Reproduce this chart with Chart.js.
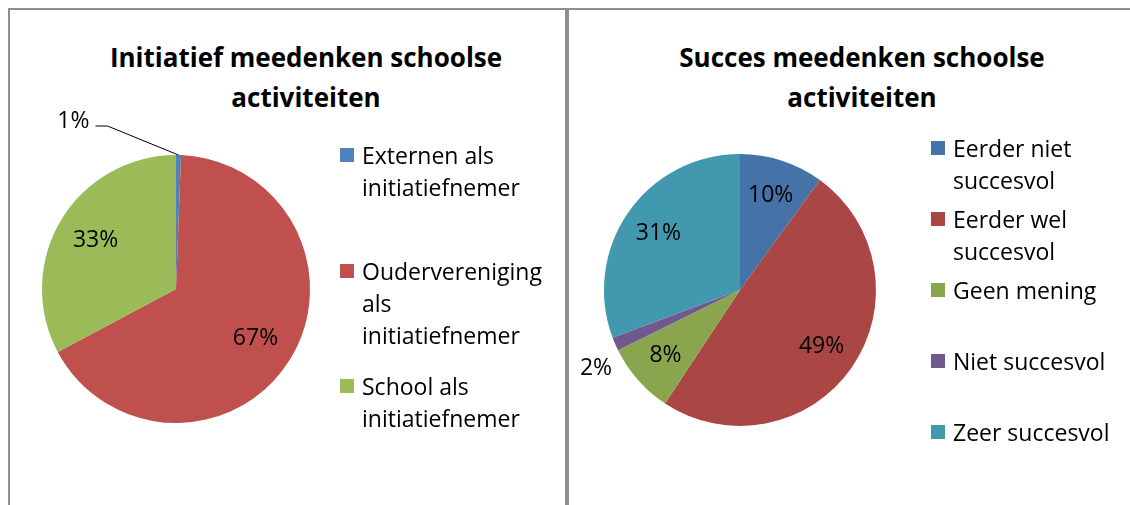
<!DOCTYPE html>
<html>
<head>
<meta charset="utf-8">
<script src="https://cdn.jsdelivr.net/npm/chart.js@4/dist/chart.umd.min.js"></script>
<style>
  body { margin: 0; background: #fff; font-family: "Open Sans", sans-serif; }
  .box { position: absolute; top: 8px; height: 520px; border: 2px solid #8e8e8e; box-sizing: border-box; }
  .title { position: absolute; top: 37px; width: 460px; text-align: center; font: bold 26px "Open Sans", sans-serif; line-height: 40px; color: #000; }
  canvas { position: absolute; }
  .legend { position: absolute; margin: 0; padding: 0; list-style: none; font: 23px "Open Sans", sans-serif; line-height: 32px; color: #000; white-space: nowrap; }
  .legend li { position: relative; padding-left: 22px; }
  .legend li span { position: absolute; left: 0; top: 9px; width: 14px; height: 14px; }
</style>
</head>
<body>
<div class="box" style="left:8px; width:559px;"></div>
<div class="box" style="left:567px; width:580px;"></div>

<div class="title" id="title1" style="left:76px;"></div>
<div class="title" id="title2" style="left:632px;"></div>

<canvas id="chart1" width="554" height="495" style="left:10px; top:10px;"></canvas>
<canvas id="chart2" width="559" height="495" style="left:569px; top:10px;"></canvas>

<ul class="legend" id="legend1" style="left:340px; top:139px;"></ul>
<ul class="legend" id="legend2" style="left:931px; top:132px;"></ul>

<script>
// left chart
const initTitle = ['Initiatief meedenken schoolse', 'activiteiten'];
const initLabels = [
  ['Externen als', 'initiatiefnemer'],
  ['Oudervereniging', 'als', 'initiatiefnemer'],
  ['School als', 'initiatiefnemer']
];
const initValues = [0.6, 66.6, 32.8];
const initColors = ['#4F81BD', '#C0504D', '#9BBB59'];

// right chart
const succesTitle = ['Succes meedenken schoolse', 'activiteiten'];
const succesLabels = [
  ['Eerder niet', 'succesvol'],
  ['Eerder wel', 'succesvol'],
  ['Geen mening'],
  ['Niet succesvol'],
  ['Zeer succesvol']
];
const succesValues = [10.0, 49.3, 8.4, 1.6, 30.7];
const succesColors = ['#4572A7', '#AA4643', '#89A54E', '#71588F', '#4198AF'];

// percentage labels, inside the slice, outside for tiny ones, or with a leader line
const pieLabels = {
  id: 'pieLabels',
  afterDatasetsDraw(chart, args, opts) {
    const ctx = chart.ctx;
    const ds = chart.data.datasets[0];
    const total = ds.data.reduce((a, b) => a + b, 0);
    ctx.save();
    ctx.font = '23px "Open Sans", sans-serif';
    ctx.fillStyle = '#000';
    ctx.strokeStyle = '#000';
    ctx.lineWidth = 1;
    ctx.textBaseline = 'middle';
    chart.getDatasetMeta(0).data.forEach((arc, i) => {
      const p = arc.getProps(['x', 'y', 'startAngle', 'endAngle', 'outerRadius'], true);
      const mid = (p.startAngle + p.endAngle) / 2;
      const share = ds.data[i] / total;
      const text = Math.round(share * 100) + '%';
      const c = opts.callout;
      if (c && c.index === i) {
        const ex = p.x + Math.cos(mid) * p.outerRadius;
        const ey = p.y + Math.sin(mid) * p.outerRadius;
        ctx.beginPath();
        ctx.moveTo(ex, ey);
        ctx.lineTo(ex + c.elbow[0], ey + c.elbow[1]);
        ctx.lineTo(ex + c.end[0], ey + c.end[1]);
        ctx.stroke();
        ctx.textAlign = 'right';
        ctx.fillText(text, ex + c.text[0], ey + c.text[1]);
        return;
      }
      ctx.textAlign = 'center';
      if (share < 0.03) {
        const r = p.outerRadius * opts.outside;
        ctx.fillText(text, p.x + Math.cos(mid) * r + opts.shift[0], p.y + Math.sin(mid) * r + opts.shift[1]);
      } else {
        const r = p.outerRadius * opts.inside;
        ctx.fillText(text, p.x + Math.cos(mid) * r, p.y + Math.sin(mid) * r);
      }
    });
    ctx.restore();
  }
};

function makePie(id, labels, values, colors, padding, labelOpts) {
  return new Chart(document.getElementById(id), {
    type: 'pie',
    data: {
      labels: labels.map(l => l.join(' ')),
      datasets: [{ data: values, backgroundColor: colors, borderWidth: 0 }]
    },
    options: {
      responsive: false,
      animation: false,
      layout: { padding: padding },
      plugins: {
        legend: { display: false },
        tooltip: { enabled: false },
        pieLabels: labelOpts
      }
    },
    plugins: [pieLabels]
  });
}

function fillLegend(id, labels, colors, slot) {
  const ul = document.getElementById(id);
  labels.forEach((lines, i) => {
    const li = document.createElement('li');
    li.style.height = slot + 'px';
    const sq = document.createElement('span');
    sq.style.background = colors[i];
    li.appendChild(sq);
    li.innerHTML += lines.join('<br>');
    ul.appendChild(li);
  });
}

document.getElementById('title1').innerHTML = initTitle.join('<br>');
document.getElementById('title2').innerHTML = succesTitle.join('<br>');

makePie('chart1', initLabels, initValues, initColors,
  { left: 32, top: 145, right: 254, bottom: 82 },
  { inside: 0.7, outside: 1.21, shift: [0, 0], callout: { index: 0, elbow: [-71, -29], end: [-83, -29], text: [-89, -34] } });

makePie('chart2', succesLabels, succesValues, succesColors,
  { left: 35, top: 144, right: 252, bottom: 79 },
  { inside: 0.73, outside: 1.21, shift: [7, 13] });

fillLegend('legend1', initLabels, initColors, 115.5);
fillLegend('legend2', succesLabels, succesColors, 71);
</script>
</body>
</html>
